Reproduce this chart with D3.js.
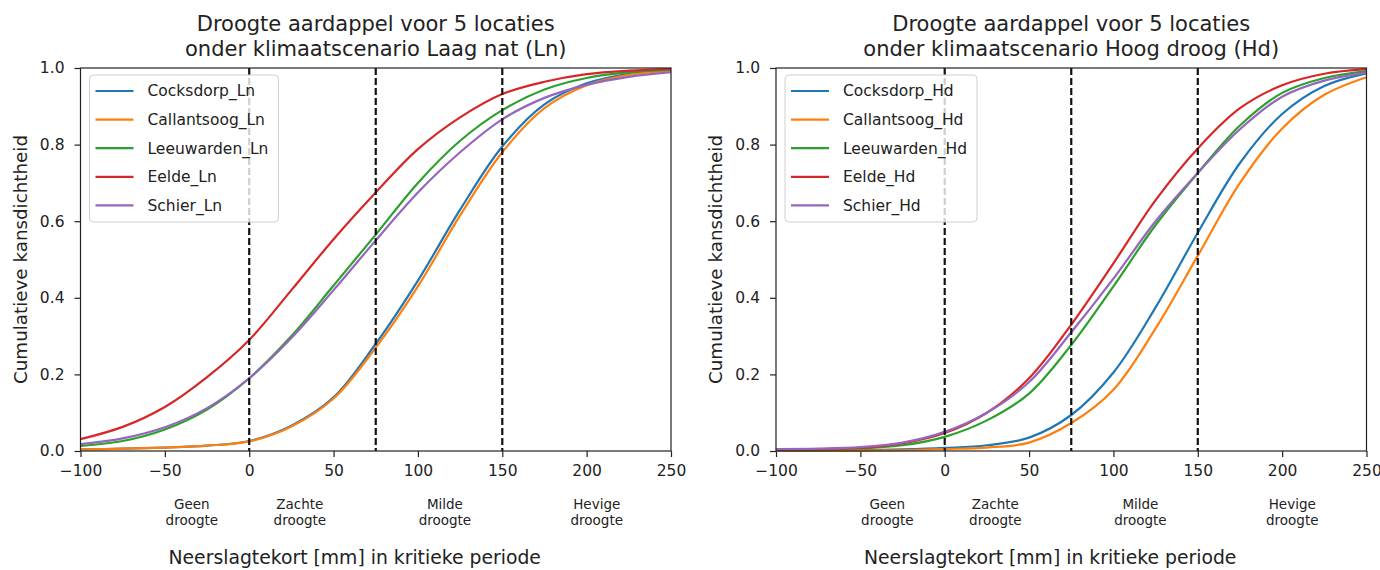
<!DOCTYPE html>
<html>
<head>
<meta charset="utf-8">
<script src="https://cdn.jsdelivr.net/npm/d3@7"></script>
<style>
  body { margin: 0; background: #fff; }
  text { font-family: "DejaVu Sans", sans-serif; fill: #222; }
</style>
</head>
<body>
<svg id="chart" width="1380" height="570"></svg>
<script>
// neerslagtekort (mm) at which the cumulative curves are sampled
const xSamples = [-100, -75, -50, -25, 0, 25, 50, 75, 100, 125, 150, 175, 200, 225, 250];

const locations = ['Cocksdorp', 'Callantsoog', 'Leeuwarden', 'Eelde', 'Schier'];
const locationColors = ['#1f77b4', '#ff7f0e', '#2ca02c', '#d62728', '#9467bd'];

// scenario Laag nat (Ln)
const cocksdorpLn   = [0.004, 0.006, 0.009, 0.014, 0.026, 0.066, 0.14, 0.28, 0.445, 0.63, 0.795, 0.905, 0.96, 0.985, 0.996];
const callantsoogLn = [0.004, 0.006, 0.009, 0.014, 0.025, 0.064, 0.137, 0.27, 0.43, 0.615, 0.78, 0.895, 0.955, 0.982, 0.994];
const leeuwardenLn  = [0.013, 0.026, 0.056, 0.108, 0.19, 0.30, 0.432, 0.565, 0.70, 0.81, 0.89, 0.944, 0.974, 0.989, 0.996];
const eeldeLn       = [0.031, 0.063, 0.115, 0.193, 0.29, 0.42, 0.553, 0.675, 0.788, 0.871, 0.932, 0.964, 0.984, 0.993, 0.997];
const schierLn      = [0.018, 0.033, 0.062, 0.112, 0.19, 0.295, 0.42, 0.55, 0.675, 0.78, 0.866, 0.922, 0.956, 0.977, 0.989];

// scenario Hoog droog (Hd)
const cocksdorpHd   = [0.001, 0.001, 0.002, 0.004, 0.008, 0.015, 0.035, 0.094, 0.205, 0.375, 0.57, 0.752, 0.88, 0.953, 0.986];
const callantsoogHd = [0.001, 0.001, 0.001, 0.002, 0.005, 0.009, 0.022, 0.073, 0.16, 0.32, 0.51, 0.70, 0.842, 0.93, 0.976];
const leeuwardenHd  = [0.003, 0.004, 0.007, 0.015, 0.037, 0.08, 0.15, 0.277, 0.43, 0.59, 0.726, 0.85, 0.935, 0.974, 0.992];
const eeldeHd       = [0.004, 0.005, 0.008, 0.02, 0.047, 0.10, 0.19, 0.33, 0.49, 0.655, 0.79, 0.895, 0.955, 0.985, 0.997];
const schierHd      = [0.005, 0.006, 0.01, 0.022, 0.05, 0.10, 0.18, 0.31, 0.45, 0.60, 0.726, 0.84, 0.925, 0.967, 0.988];

// drought class boundaries and the class names written under the axis
const classBounds = [0, 75, 150];
const classNames = [['Geen', 'droogte'], ['Zachte', 'droogte'], ['Milde', 'droogte'], ['Hevige', 'droogte']];
const classCenters = [-34, 30, 116, 206];

const xTicks = [-100, -50, 0, 50, 100, 150, 200, 250];
const yTicks = [0, 0.2, 0.4, 0.6, 0.8, 1.0];

const panels = [
  { suffix: 'Ln', name: 'Laag nat', left: 80.5, series: [cocksdorpLn, callantsoogLn, leeuwardenLn, eeldeLn, schierLn] },
  { suffix: 'Hd', name: 'Hoog droog', left: 776, series: [cocksdorpHd, callantsoogHd, leeuwardenHd, eeldeHd, schierHd] },
];

const svg = d3.select('#chart');
const plotW = 590.5;
const plotTop = 68, plotBottom = 451;

panels.forEach(function (p) {
  const g = svg.append('g');

  const x = d3.scaleLinear().domain([-100, 250]).range([p.left, p.left + plotW]);
  const y = d3.scaleLinear().domain([0, 1]).range([plotBottom, plotTop]);

  // title
  const title = g.append('text')
    .attr('text-anchor', 'middle')
    .style('font-size', '21px');
  title.append('tspan').attr('x', p.left + plotW / 2).attr('y', 31).text('Droogte aardappel voor 5 locaties');
  title.append('tspan').attr('x', p.left + plotW / 2).attr('y', 56)
    .text('onder klimaatscenario ' + p.name + ' (' + p.suffix + ')');

  // axes
  const xAxis = g.append('g')
    .attr('transform', 'translate(0,' + plotBottom + ')')
    .call(d3.axisBottom(x).tickValues(xTicks).tickSize(6).tickPadding(8).tickFormat(d3.format('d')));
  const yAxis = g.append('g')
    .attr('transform', 'translate(' + p.left + ',0)')
    .call(d3.axisLeft(y).tickValues(yTicks).tickSize(6).tickPadding(10).tickFormat(d3.format('.1f')));
  [xAxis, yAxis].forEach(function (a) {
    a.select('.domain').remove();
    a.selectAll('.tick line').attr('stroke', '#222').attr('stroke-width', 1.2);
    a.selectAll('.tick text').style('font-size', '15.5px').style('font-family', '"DejaVu Sans", sans-serif').attr('fill', '#222');
  });

  // cumulative curves
  const line = d3.line()
    .x(function (d, i) { return x(xSamples[i]); })
    .y(function (d) { return y(d); })
    .curve(d3.curveCatmullRom.alpha(0.5));

  g.append('g').selectAll('path')
    .data(p.series)
    .enter()
    .append('path')
    .attr('d', line)
    .attr('fill', 'none')
    .attr('stroke', function (d, i) { return locationColors[i]; })
    .attr('stroke-width', 2.2);

  // drought class boundaries
  g.append('g').selectAll('line')
    .data(classBounds)
    .enter()
    .append('line')
    .attr('x1', function (d) { return x(d); })
    .attr('x2', function (d) { return x(d); })
    .attr('y1', plotTop)
    .attr('y2', plotBottom)
    .attr('stroke', '#111')
    .attr('stroke-width', 2.2)
    .attr('stroke-dasharray', '7,3');

  // frame
  g.append('rect')
    .attr('x', p.left).attr('y', plotTop)
    .attr('width', plotW).attr('height', plotBottom - plotTop)
    .attr('fill', 'none')
    .attr('stroke', '#222')
    .attr('stroke-width', 1.2);

  // legend
  const legend = g.append('g').attr('transform', 'translate(' + (p.left + 9) + ',75)');
  const box = legend.append('rect')
    .attr('height', 147)
    .attr('rx', 4)
    .attr('fill', 'rgba(255,255,255,0.8)')
    .attr('stroke', '#d0d0d0');
  let maxW = 0;
  locations.forEach(function (loc, i) {
    const row = legend.append('g').attr('transform', 'translate(0,' + (16 + i * 28.6) + ')');
    row.append('line')
      .attr('x1', 6).attr('x2', 44)
      .attr('stroke', locationColors[i])
      .attr('stroke-width', 2.2);
    const t = row.append('text')
      .attr('x', 58).attr('dy', '0.35em')
      .style('font-size', '15.5px')
      .text(loc + '_' + p.suffix);
    maxW = Math.max(maxW, t.node().getComputedTextLength());
  });
  box.attr('width', 58 + maxW + 10);

  // drought class names under the ticks
  classNames.forEach(function (lines, i) {
    const t = g.append('text')
      .attr('text-anchor', 'middle')
      .style('font-size', '13.5px');
    lines.forEach(function (s, j) {
      t.append('tspan').attr('x', x(classCenters[i])).attr('y', 509 + j * 16).text(s);
    });
  });

  // axis labels
  g.append('text')
    .attr('x', p.left + 88)
    .attr('y', 564)
    .style('font-size', '18.8px')
    .text('Neerslagtekort [mm] in kritieke periode');

  g.append('text')
    .attr('transform', 'translate(' + (p.left - 60) + ',' + ((plotTop + plotBottom) / 2) + ') rotate(-90)')
    .attr('text-anchor', 'middle')
    .attr('dy', '0.35em')
    .style('font-size', '18.3px')
    .text('Cumulatieve kansdichtheid');
});
</script>
</body>
</html>
